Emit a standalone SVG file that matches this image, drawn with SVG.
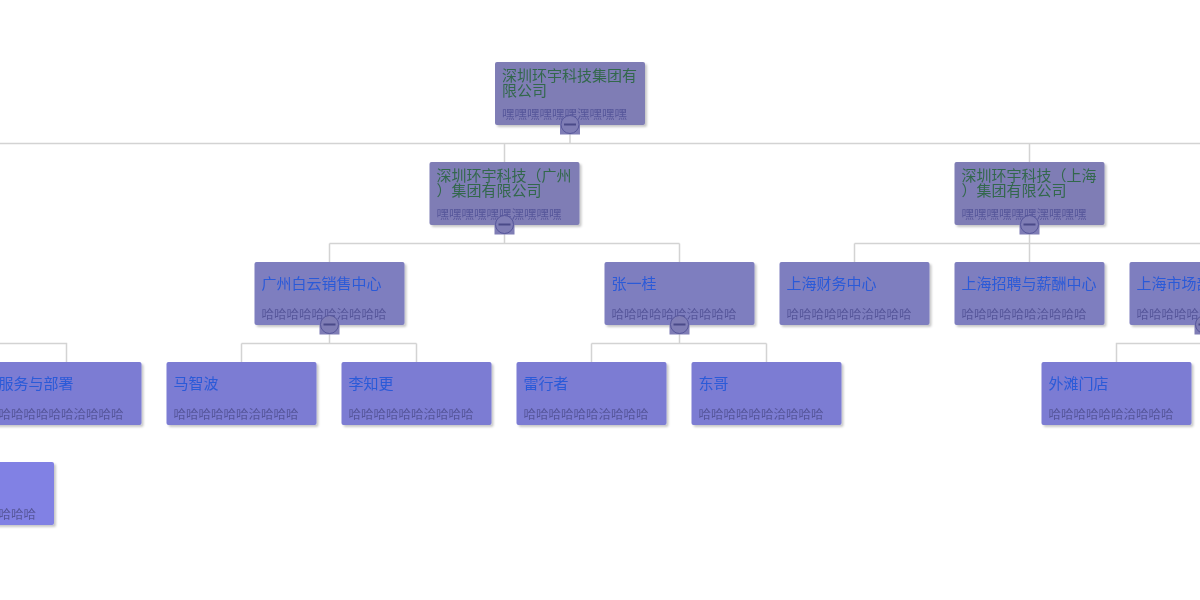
<svg xmlns="http://www.w3.org/2000/svg" width="1200" height="600" viewBox="0 0 1200 600">
<defs>
<filter id="sh" x="-10%" y="-10%" width="130%" height="140%">
<feDropShadow dx="2" dy="2" stdDeviation="1.2" flood-color="#000" flood-opacity="0.22"/>
</filter>
<style>
.n{filter:url(#sh)}
.l0{fill:#7f7db5}
.l2{fill:#7e7ebf}
.l3{fill:#7b7bd3}
.l4{fill:#8181e4}
.t{font-family:"Noto Sans CJK SC","Noto Sans",sans-serif;font-size:15px}
.tg{fill:#33684c}
.tb{fill:#2b5ad8}
.s{font-family:"Noto Sans CJK SC","Noto Sans",sans-serif;font-size:12.5px;fill:#56569a}
.cl{fill:none;stroke:#d3d3d3;stroke-width:1.5}
.bb{fill:#7f7db5}
.bc{fill:#7f7db5;stroke:#56569a;stroke-width:1}
.bm{stroke:#4a4a88;stroke-width:2}
</style>
</defs>
<rect width="1200" height="600" fill="#fff"/>
<g id="connectors" class="cl">
<path d="M0 143.5H1200M570 134V143.5M504.5 143.5V162M1029.5 143.5V162"/>
<path d="M504.5 234V243.5M329.5 243.5H679.5M329.5 243.5V262M679.5 243.5V262"/>
<path d="M1029.5 234V262M854.5 243.5H1200M854.5 243.5V262"/>
<path d="M0 343.5H66.5V362"/>
<path d="M329.5 334V343.5M241.5 343.5H416.5M241.5 343.5V362M416.5 343.5V362"/>
<path d="M679.5 334V343.5M591.5 343.5H766.5M591.5 343.5V362M766.5 343.5V362"/>
<path d="M1116.5 362V343.5H1200"/>
</g>
<g id="root" class="n">
<rect class="l0" x="495" y="62" width="150" height="63" rx="2"/>
<text class="t tg" x="502" y="80.5">深圳环宇科技集团有</text>
<text class="t tg" x="502" y="95.5">限公司</text>
<text class="s" x="502" y="118.5">嘿嘿嘿嘿嘿嘿潶嘿嘿嘿</text>
</g>
<g id="btn-root"><rect class="bb" x="560" y="124.5" width="20" height="10"/><circle class="bc" cx="570" cy="124.5" r="9"/><path class="bm" d="M564 124.5H576"/></g>
<g id="gz" class="n">
<rect class="l0" x="429.5" y="162" width="150" height="63" rx="2"/>
<text class="t tg" x="436.5" y="180.5">深圳环宇科技（广州</text>
<text class="t tg" x="436.5" y="195.5">）集团有限公司</text>
<text class="s" x="436.5" y="218.5">嘿嘿嘿嘿嘿嘿潶嘿嘿嘿</text>
</g>
<g id="btn-gz"><rect class="bb" x="494.5" y="224.5" width="20" height="10"/><circle class="bc" cx="504.5" cy="224.5" r="9"/><path class="bm" d="M498.5 224.5H510.5"/></g>
<g id="sh" class="n">
<rect class="l0" x="954.5" y="162" width="150" height="63" rx="2"/>
<text class="t tg" x="961.5" y="180.5">深圳环宇科技（上海</text>
<text class="t tg" x="961.5" y="195.5">）集团有限公司</text>
<text class="s" x="961.5" y="218.5">嘿嘿嘿嘿嘿嘿潶嘿嘿嘿</text>
</g>
<g id="btn-sh"><rect class="bb" x="1019.5" y="224.5" width="20" height="10"/><circle class="bc" cx="1029.5" cy="224.5" r="9"/><path class="bm" d="M1023.5 224.5H1035.5"/></g>
<g id="gzby" class="n">
<rect class="l2" x="254.5" y="262" width="150" height="63" rx="2"/>
<text class="t tb" x="261.5" y="288.5">广州白云销售中心</text>
<text class="s" x="261.5" y="318.5">哈哈哈哈哈哈洽哈哈哈</text>
</g>
<g id="btn-gzby"><rect class="bb" x="319.5" y="324.5" width="20" height="10"/><circle class="bc" cx="329.5" cy="324.5" r="9"/><path class="bm" d="M323.5 324.5H335.5"/></g>
<g id="zyg" class="n">
<rect class="l2" x="604.5" y="262" width="150" height="63" rx="2"/>
<text class="t tb" x="611.5" y="288.5">张一桂</text>
<text class="s" x="611.5" y="318.5">哈哈哈哈哈哈洽哈哈哈</text>
</g>
<g id="btn-zyg"><rect class="bb" x="669.5" y="324.5" width="20" height="10"/><circle class="bc" cx="679.5" cy="324.5" r="9"/><path class="bm" d="M673.5 324.5H685.5"/></g>
<g id="shcw" class="n">
<rect class="l2" x="779.5" y="262" width="150" height="63" rx="2"/>
<text class="t tb" x="786.5" y="288.5">上海财务中心</text>
<text class="s" x="786.5" y="318.5">哈哈哈哈哈哈洽哈哈哈</text>
</g>
<g id="shzp" class="n">
<rect class="l2" x="954.5" y="262" width="150" height="63" rx="2"/>
<text class="t tb" x="961.5" y="288.5">上海招聘与薪酬中心</text>
<text class="s" x="961.5" y="318.5">哈哈哈哈哈哈洽哈哈哈</text>
</g>
<g id="shsc" class="n">
<rect class="l2" x="1129.5" y="262" width="150" height="63" rx="2"/>
<text class="t tb" x="1136.5" y="288.5">上海市场部</text>
<text class="s" x="1136.5" y="318.5">哈哈哈哈哈哈洽哈哈哈</text>
</g>
<g id="btn-shsc"><rect class="bb" x="1194.5" y="324.5" width="20" height="10"/><circle class="bc" cx="1204.5" cy="324.5" r="9"/><path class="bm" d="M1198.5 324.5H1210.5"/></g>
<g id="fwbs" class="n">
<rect class="l3" x="-8.5" y="362" width="150" height="63" rx="2"/>
<text class="t tb" x="-1.5" y="388.5">服务与部署</text>
<text class="s" x="-1.5" y="418.5">哈哈哈哈哈哈洽哈哈哈</text>
</g>
<g id="mzb" class="n">
<rect class="l3" x="166.5" y="362" width="150" height="63" rx="2"/>
<text class="t tb" x="173.5" y="388.5">马智波</text>
<text class="s" x="173.5" y="418.5">哈哈哈哈哈哈洽哈哈哈</text>
</g>
<g id="lzg" class="n">
<rect class="l3" x="341.5" y="362" width="150" height="63" rx="2"/>
<text class="t tb" x="348.5" y="388.5">李知更</text>
<text class="s" x="348.5" y="418.5">哈哈哈哈哈哈洽哈哈哈</text>
</g>
<g id="lxz" class="n">
<rect class="l3" x="516.5" y="362" width="150" height="63" rx="2"/>
<text class="t tb" x="523.5" y="388.5">雷行者</text>
<text class="s" x="523.5" y="418.5">哈哈哈哈哈哈洽哈哈哈</text>
</g>
<g id="dg" class="n">
<rect class="l3" x="691.5" y="362" width="150" height="63" rx="2"/>
<text class="t tb" x="698.5" y="388.5">东哥</text>
<text class="s" x="698.5" y="418.5">哈哈哈哈哈哈洽哈哈哈</text>
</g>
<g id="wtmd" class="n">
<rect class="l3" x="1041.5" y="362" width="150" height="63" rx="2"/>
<text class="t tb" x="1048.5" y="388.5">外滩门店</text>
<text class="s" x="1048.5" y="418.5">哈哈哈哈哈哈洽哈哈哈</text>
</g>
<g id="leaf4" class="n">
<rect class="l4" x="-96" y="462" width="150" height="63" rx="2"/>
<text class="s" x="-89" y="518.5">哈哈哈哈哈哈洽哈哈哈</text>
</g>
</svg>
